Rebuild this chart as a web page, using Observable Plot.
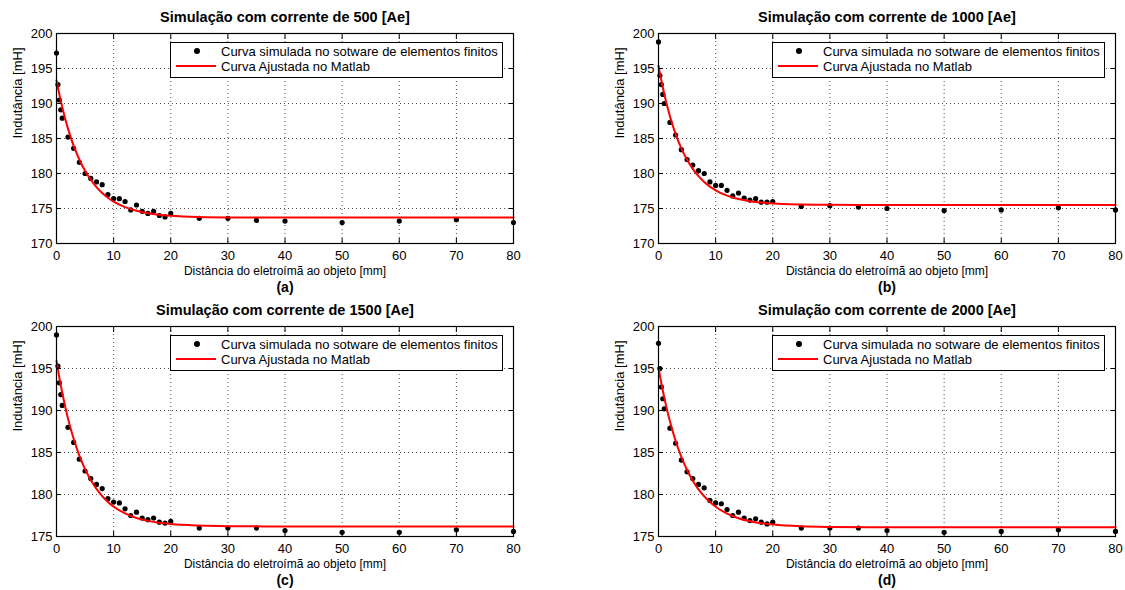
<!DOCTYPE html>
<html>
<head>
<meta charset="utf-8">
<script src="https://cdn.jsdelivr.net/npm/d3@7"></script>
<script src="https://cdn.jsdelivr.net/npm/@observablehq/plot@0.6"></script>
<style>
  body { margin: 0; background: #fff; font-family: "Liberation Sans", Arial, sans-serif; }
  #root { position: relative; width: 1125px; height: 590px; overflow: hidden; background: #fff; }
  .panel { position: absolute; }
  .panel svg { display: block; overflow: visible; }
  .legend { position: absolute; border: 1px solid #000; background: #fff; box-sizing: border-box;
            width: 333px; height: 36px; font-size: 13px; color: #000; }
  .legend .dot { position: absolute; left: 23px; top: 5px; width: 6px; height: 6px; border-radius: 50%; background: #000; }
  .legend .ln { position: absolute; left: 5px; top: 22px; width: 40px; height: 2px; background: #f00; }
  .legend .t { position: absolute; left: 50px; white-space: nowrap; line-height: 15px; }
</style>
</head>
<body>
<div id="root"></div>
<script>
// Distances (mm) where the finite-element simulation was sampled
const distancia = [0, 0.25, 0.5, 0.75, 1, 2, 3, 4, 5, 6, 7, 8, 9, 10, 11, 12, 13, 14, 15, 16, 17, 18, 19, 20, 25, 30, 35, 40, 50, 60, 70, 80];

// Simulated inductance (mH) for each current
const indut500 = [197.2, 192.7, 190.5, 189.1, 187.9, 185.2, 183.6, 181.6, 180.0, 179.3, 178.8, 178.4, 177.0, 176.4, 176.4, 176.0, 174.8, 175.5, 174.6, 174.3, 174.6, 174.0, 173.8, 174.3, 173.6, 173.6, 173.3, 173.2, 173.0, 173.2, 173.4, 173.0];
const indut1000 = [198.8, 194.0, 192.7, 191.3, 190.0, 187.3, 185.5, 183.4, 182.0, 181.2, 180.4, 180.0, 178.8, 178.3, 178.3, 177.6, 176.8, 177.2, 176.5, 176.2, 176.4, 175.9, 175.9, 176.0, 175.3, 175.4, 175.2, 175.0, 174.7, 174.8, 175.1, 174.8];
const indut1500 = [199.0, 195.3, 193.3, 191.9, 190.6, 188.0, 186.2, 184.2, 182.8, 181.9, 181.2, 180.7, 179.5, 179.1, 179.0, 178.3, 177.5, 177.9, 177.2, 177.0, 177.2, 176.7, 176.6, 176.8, 176.0, 176.0, 176.0, 175.7, 175.5, 175.5, 175.8, 175.6];
const indut2000 = [198.0, 195.0, 192.8, 191.4, 190.2, 187.9, 186.1, 184.1, 182.7, 181.9, 181.2, 180.8, 179.3, 179.0, 178.9, 178.2, 177.5, 177.9, 177.2, 176.9, 177.1, 176.7, 176.5, 176.7, 176.0, 176.0, 176.0, 175.7, 175.5, 175.6, 175.8, 175.6];

// Fitted (Matlab) curve, sampled along the distance axis
const ajusteX = [0, 0.5, 1, 1.5, 2, 3, 4, 5, 6, 7, 8, 9, 10, 12, 14, 16, 18, 20, 25, 30, 40, 50, 60, 70, 80];
const ajuste500 = [193.3, 191.3, 189.5, 187.9, 186.45, 183.98, 182.0, 180.39, 179.1, 178.05, 177.21, 176.53, 175.98, 175.19, 174.67, 174.33, 174.11, 173.97, 173.79, 173.73, 173.7, 173.7, 173.7, 173.7, 173.7];
const ajuste1000 = [195.4, 193.28, 191.39, 189.7, 188.19, 185.63, 183.59, 181.96, 180.66, 179.62, 178.79, 178.13, 177.6, 176.84, 176.35, 176.04, 175.85, 175.72, 175.57, 175.52, 175.5, 175.5, 175.5, 175.5, 175.5];
const ajuste1500 = [195.9, 193.92, 192.14, 190.53, 189.09, 186.63, 184.64, 183.03, 181.72, 180.67, 179.81, 179.12, 178.56, 177.75, 177.21, 176.86, 176.63, 176.48, 176.3, 176.23, 176.2, 176.2, 176.2, 176.2, 176.2];
const ajuste2000 = [195.1, 193.25, 191.58, 190.07, 188.71, 186.37, 184.47, 182.92, 181.65, 180.62, 179.79, 179.1, 178.55, 177.72, 177.18, 176.81, 176.58, 176.42, 176.21, 176.14, 176.1, 176.1, 176.1, 176.1, 176.1];

// Axis ticks and labels
const xTicks = [0, 10, 20, 30, 40, 50, 60, 70, 80];
const yTicksTop = [170, 175, 180, 185, 190, 195, 200];
const yTicksBottom = [175, 180, 185, 190, 195, 200];
const rotuloX = "Distância do eletroímã ao objeto [mm]";
const rotuloY = "Indutância [mH]";
const legendaPontos = "Curva simulada no sotware de elementos finitos";
const legendaAjuste = "Curva Ajustada no Matlab";

const paineis = [
  {titulo: "Simulação com corrente de 500 [Ae]",  letra: "(a)", pontos: indut500,  ajuste: ajuste500,  yTicks: yTicksTop,    left: 0,   top: 0,   width: 563, marginRight: 50},
  {titulo: "Simulação com corrente de 1000 [Ae]", letra: "(b)", pontos: indut1000, ajuste: ajuste1000, yTicks: yTicksTop,    left: 602, top: 0,   width: 523, marginRight: 10},
  {titulo: "Simulação com corrente de 1500 [Ae]", letra: "(c)", pontos: indut1500, ajuste: ajuste1500, yTicks: yTicksBottom, left: 0,   top: 293, width: 563, marginRight: 50},
  {titulo: "Simulação com corrente de 2000 [Ae]", letra: "(d)", pontos: indut2000, ajuste: ajuste2000, yTicks: yTicksBottom, left: 602, top: 293, width: 523, marginRight: 10}
];

const fonte = "'Liberation Sans', Arial, sans-serif";
const root = document.getElementById("root");

for (const p of paineis) {
  const pontos = distancia.map((x, i) => ({x, y: p.pontos[i]}));
  const curva = ajusteX.map((x, i) => ({x, y: p.ajuste[i]}));
  const yDomain = [p.yTicks[0], p.yTicks[p.yTicks.length - 1]];
  const grade = {stroke: "#000", strokeOpacity: 0.7, strokeDasharray: "1,3", strokeWidth: 1};

  const svg = Plot.plot({
    width: p.width,
    height: 295,
    marginLeft: 56,
    marginRight: p.marginRight,
    marginTop: 33,
    marginBottom: 52,
    style: {fontFamily: fonte, fontSize: "13px", color: "#000", background: "transparent", overflow: "visible"},
    x: {domain: [0, 80]},
    y: {domain: yDomain},
    marks: [
      Plot.gridX(xTicks, grade),
      Plot.gridY(p.yTicks, grade),
      Plot.dot(pontos, {x: "x", y: "y", r: 2.6, fill: "#000", stroke: null}),
      Plot.line(curva, {x: "x", y: "y", stroke: "#ff0000", strokeWidth: 2, curve: "monotone-x"}),
      Plot.frame({stroke: "#000", strokeWidth: 1.2}),
      // inward ticks on all four sides
      Plot.axisX(xTicks, {anchor: "bottom", tickSize: -5, fill: "none", label: null}),
      Plot.axisX(xTicks, {anchor: "top", tickSize: -5, fill: "none", label: null}),
      Plot.axisY(p.yTicks, {anchor: "left", tickSize: -5, fill: "none", label: null}),
      Plot.axisY(p.yTicks, {anchor: "right", tickSize: -5, fill: "none", label: null}),
      // tick labels
      Plot.axisX(xTicks, {anchor: "bottom", tickSize: 0, tickPadding: 7, label: null, fontSize: 13}),
      Plot.axisY(p.yTicks, {anchor: "left", tickSize: 0, tickPadding: 4, label: null, fontSize: 13}),
      // titles and axis labels
      Plot.text([p.titulo], {text: d => d, frameAnchor: "top", lineAnchor: "middle", dy: -16, fontWeight: "bold", fontSize: 14.5}),
      Plot.text([rotuloX], {text: d => d, frameAnchor: "bottom", lineAnchor: "middle", dy: 28, fontSize: 12}),
      Plot.text([p.letra], {text: d => d, frameAnchor: "bottom", lineAnchor: "middle", dy: 44, fontWeight: "bold", fontSize: 14}),
      Plot.text([rotuloY], {text: d => d, frameAnchor: "left", lineAnchor: "middle", dx: -39, rotate: -90, fontSize: 13})
    ]
  });

  const div = document.createElement("div");
  div.className = "panel";
  div.style.left = p.left + "px";
  div.style.top = p.top + "px";
  div.appendChild(svg);

  const leg = document.createElement("div");
  leg.className = "legend";
  leg.style.left = "170px";
  leg.style.top = "42px";
  leg.innerHTML =
    `<span class="dot"></span><span class="t" style="top:1px">${legendaPontos}</span>` +
    `<span class="ln"></span><span class="t" style="top:16px">${legendaAjuste}</span>`;
  div.appendChild(leg);
  root.appendChild(div);
}
</script>
</body>
</html>
